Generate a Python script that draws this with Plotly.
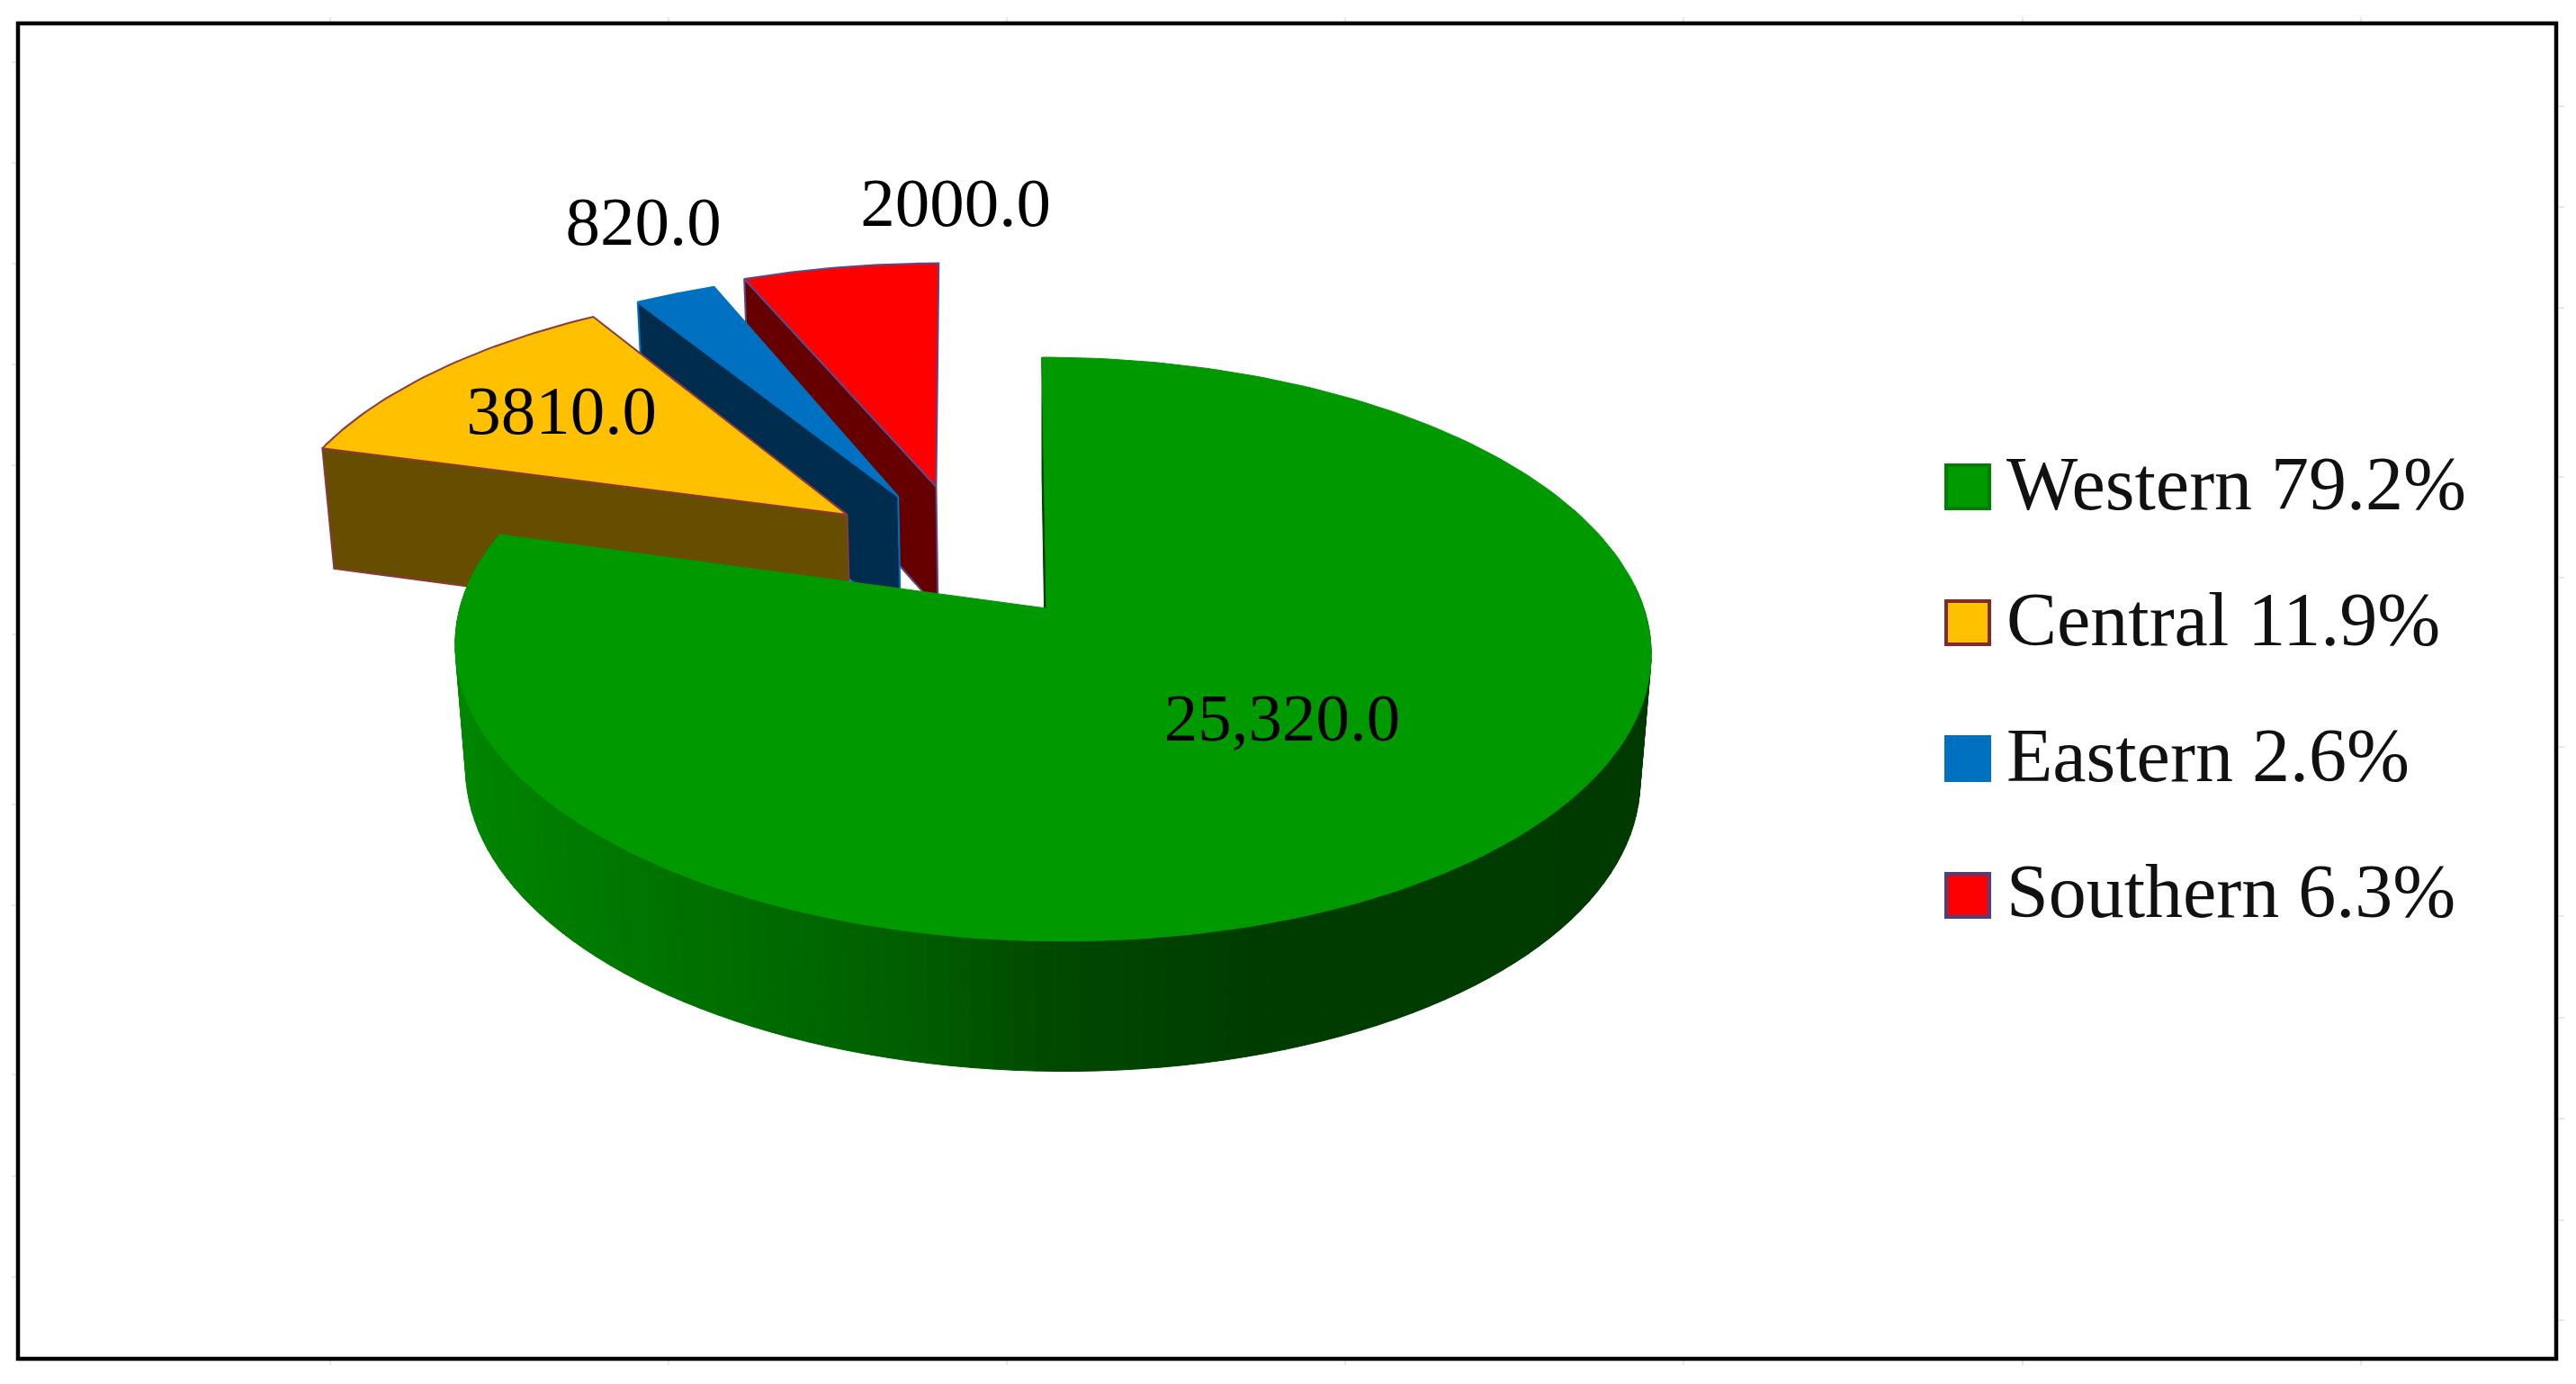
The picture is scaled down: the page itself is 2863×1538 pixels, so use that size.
import math
import plotly.graph_objects as go

# ---------- data ----------
regions = ["Western", "Central", "Eastern", "Southern"]
values = [25320.0, 3810.0, 820.0, 2000.0]
value_labels = ["25,320.0", "3810.0", "820.0", "2000.0"]
top_colors = ["#009900", "#FFC000", "#0070C0", "#FF0000"]
wall_colors = ["#003D00", "#664D00", "#002D4D", "#660000"]
edge_colors = ["#009900", "#8B3A3A", "#0070C0", "#5B4A8A"]
key_edges = ["#007F00", "#7F2B2B", "#0070C0", "#4F3F7F"]
# slice displacement on the pie plane (exploded slices)
explode_u = [0.0, -0.351, -0.262, -0.189]
explode_v = [0.0, 0.342, 0.4125, 0.452]
stretch_u = [1.0, 1.023, 1.035, 1.028]
lean = [0.0, 0.0, 0.0, -8.0]
label_x = [1425, 624, 715, 1062]
label_y = [804, 463, 253, 232]
label_size = [75, 77, 77, 77]
legend_y = [541, 692, 843, 995]
legend_text_y = [545, 696, 847, 998]
tick_top = [367, 743, 1119, 1495, 1871, 2248, 2624]
tick_left = [69, 181, 293, 405, 517, 705, 894, 1006, 1194, 1307, 1419]
tick_right = [118, 230, 342, 530, 642, 830, 1018, 1131, 1243, 1356, 1467]

W, H = 2863, 1538
PAGE_MARGIN = 8  # the page body keeps an 8 px margin round the figure
CX, CY, A, B, S, K, M, T = 1163.0, 676.0, 658.0, 318.0, -5.7, 0.14, -0.010, 2.0
DOWN, NX, NY = 145.0, 0.018, 0.04


def project(u, v, low=False, sk=0.0):
    """Disk coordinates (u right, v away) to page pixels; low=True for the lower face."""
    w = 1 + K * v + M * u
    if low:
        x = CX + (A * u + (S + sk) * v) / (w + NX)
        y = CY + (-B * v + T * u + DOWN) / (w + NY)
    else:
        x = CX + (A * u + (S + sk) * v) / w
        y = CY + (-B * v + T * u) / w
    return x, y


def disk(theta, du=0.0, dv=0.0, su=1.0):
    return su * math.sin(theta) + du, math.cos(theta) + dv


def green_shade(x):
    stops = [(500, 135), (700, 118), (1000, 95), (1180, 72), (1400, 60), (1840, 58)]
    for (x0, g0), (x1, g1) in zip(stops, stops[1:]):
        if x <= x1:
            return g0 + (g1 - g0) * (max(x, x0) - x0) / (x1 - x0)
    return stops[-1][1]


total = sum(values)
edges = [0.0]
for v in values:
    edges.append(edges[-1] + v / total * 2 * math.pi)

fig = go.Figure()


def poly(points, fill, line=None, width=0):
    xs = [p[0] for p in points] + [points[0][0]]
    ys = [p[1] for p in points] + [points[0][1]]
    fig.add_trace(go.Scatter(
        x=xs, y=ys, mode="lines", fill="toself", fillcolor=fill,
        line=dict(color=line or fill, width=width if line else 0),
        hoverinfo="skip", showlegend=False))


# exploded slices, back to front: Southern, Eastern, Central
for i in (3, 2, 1):
    t0, t1 = edges[i], edges[i + 1]
    du, dv, su, sk = explode_u[i], explode_v[i], stretch_u[i], lean[i]
    apex_top = project(du, dv, sk=sk)
    apex_low = project(du, dv, low=True, sk=sk)
    corner = disk(t0, du, dv, su)
    # radial wall facing the viewer (start edge of the slice)
    poly([apex_top, project(*corner, sk=sk), project(*corner, low=True, sk=sk), apex_low],
         wall_colors[i], edge_colors[i], 2)
    rim = [project(*disk(t0 + (t1 - t0) * k / 40, du, dv, su), sk=sk) for k in range(41)]
    poly([apex_top] + rim, top_colors[i], edge_colors[i], 2)

# Western slice: rim as narrow shaded bands, inner wall, then the top
t0, t1 = edges[0], edges[1]
N = 110
rim_start = math.radians(85)
for j in range(N):
    a0 = rim_start + (t1 - rim_start) * j / N
    a1 = rim_start + (t1 - rim_start) * (j + 1) / N
    p = [project(*disk(a0)), project(*disk(a1)),
         project(*disk(a1), low=True), project(*disk(a0), low=True)]
    mx = sum(q[0] for q in p) / 4
    col = f"rgb(0,{green_shade(mx):.0f},0)"
    poly(p, col, col, 1)
poly([project(0, 0), project(*disk(0.0)), project(*disk(0.0), low=True), project(0, 0, low=True)],
     wall_colors[0], wall_colors[0], 1)
poly([project(0, 0)] + [project(*disk(t0 + (t1 - t0) * k / 240)) for k in range(241)],
     top_colors[0], top_colors[0], 1)

# value labels
fig.add_trace(go.Scatter(
    x=label_x, y=label_y, mode="text", text=value_labels, textposition="middle center",
    textfont=dict(family="Liberation Serif", size=label_size, color="#000000"),
    hoverinfo="skip", showlegend=False))

# legend keys and legend text
legend_text = [f"{r} {v / total * 100:.1f}%" for r, v in zip(regions, values)]
fig.add_trace(go.Scatter(
    x=[2187] * 4, y=legend_y, mode="markers",
    marker=dict(symbol="square", size=48, color=top_colors, line=dict(color=key_edges, width=4)),
    hoverinfo="skip", showlegend=False))
fig.add_trace(go.Scatter(
    x=[2230] * 4, y=legend_text_y, mode="text", text=legend_text, textposition="middle right",
    textfont=dict(family="Liberation Serif", size=84, color="#111111"),
    hoverinfo="skip", showlegend=False))

# faint alignment ticks outside the frame
tx, ty = [], []
for x in tick_top:
    tx += [x, x, None, x, x, None]
    ty += [19, 24, None, 1512, 1517, None]
for y in tick_left:
    tx += [13, 17, None]
    ty += [y, y, None]
for y in tick_right:
    tx += [2843, 2850, None]
    ty += [y, y, None]
fig.add_trace(go.Scatter(x=tx, y=ty, mode="lines", line=dict(color="#D0D0D0", width=1),
                         hoverinfo="skip", showlegend=False))

fig.update_layout(
    width=W - 2 * PAGE_MARGIN, height=H - 2 * PAGE_MARGIN, margin=dict(l=0, r=0, t=0, b=0, pad=0),
    paper_bgcolor="#FFFFFF", plot_bgcolor="#FFFFFF", showlegend=False,
    xaxis=dict(range=[PAGE_MARGIN, W - PAGE_MARGIN], visible=False, fixedrange=True),
    yaxis=dict(range=[H - PAGE_MARGIN, PAGE_MARGIN], visible=False, fixedrange=True),
    shapes=[dict(type="rect", xref="x", yref="y", x0=20, y0=26, x1=2841, y1=1510,
                 line=dict(color="#000000", width=4.5), fillcolor="rgba(0,0,0,0)", layer="above")],
)
fig.write_html("out.html", config=dict(displayModeBar=False))
